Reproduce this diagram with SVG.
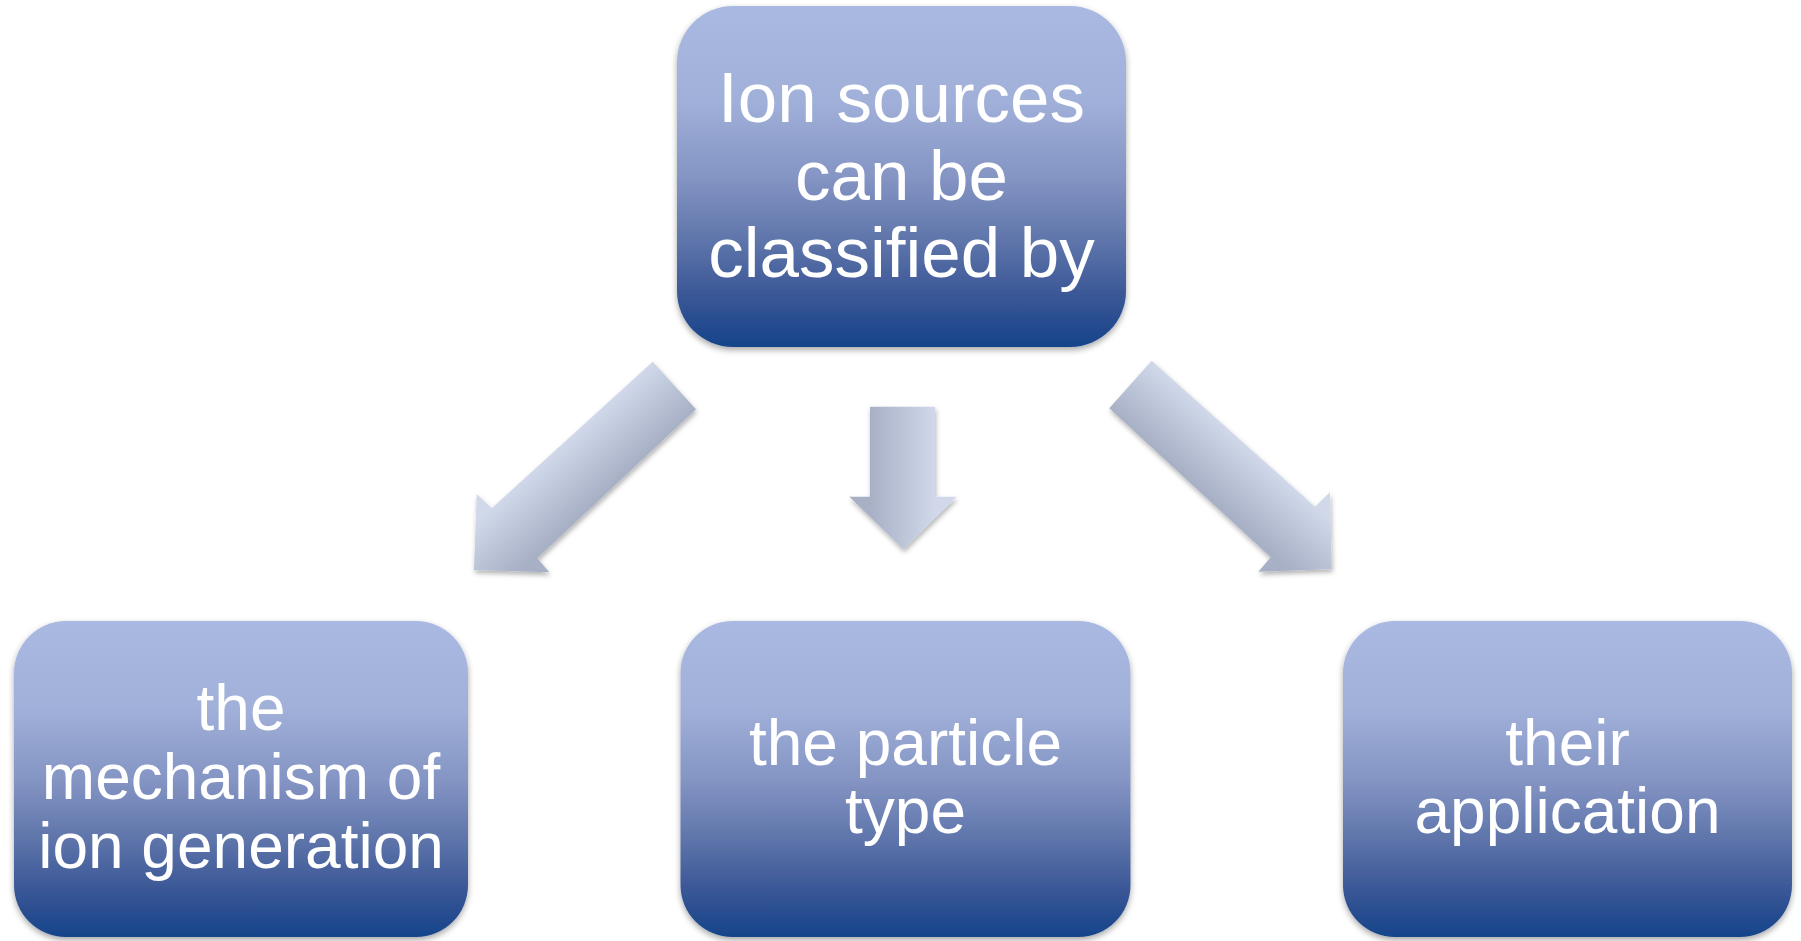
<svg xmlns="http://www.w3.org/2000/svg" width="1801" height="941" viewBox="0 0 1801 941">
  <defs>
    <linearGradient id="boxFill" x1="0" y1="0" x2="0" y2="1">
      <stop offset="0" stop-color="#a9b9e2"/>
      <stop offset="0.28" stop-color="#a0b0d9"/>
      <stop offset="0.5" stop-color="#8595c4"/>
      <stop offset="0.7" stop-color="#5c73a9"/>
      <stop offset="0.86" stop-color="#385595"/>
      <stop offset="1" stop-color="#15448a"/>
    </linearGradient>
    <linearGradient id="arrowLeftFill" gradientUnits="userSpaceOnUse" x1="652.7" y1="361.7" x2="696" y2="409.3">
      <stop offset="0" stop-color="#d0d8ea"/>
      <stop offset="1" stop-color="#a8b0c6"/>
    </linearGradient>
    <linearGradient id="arrowMidFill" gradientUnits="userSpaceOnUse" x1="870" y1="0" x2="935" y2="0">
      <stop offset="0" stop-color="#a8b0c6"/>
      <stop offset="1" stop-color="#d0d8ea"/>
    </linearGradient>
    <linearGradient id="arrowRightFill" gradientUnits="userSpaceOnUse" x1="1151.7" y1="360.7" x2="1109.3" y2="408.3">
      <stop offset="0" stop-color="#d0d8ea"/>
      <stop offset="1" stop-color="#a8b0c6"/>
    </linearGradient>
    <filter id="boxShadow" x="-10%" y="-10%" width="120%" height="125%">
      <feDropShadow dx="0" dy="3" stdDeviation="3" flood-color="#000" flood-opacity="0.35"/>
    </filter>
    <filter id="arrowShadow" x="-20%" y="-20%" width="140%" height="140%">
      <feDropShadow dx="1" dy="3" stdDeviation="2.5" flood-color="#000" flood-opacity="0.3"/>
    </filter>
  </defs>
  <style>
    .box { fill: url(#boxFill); filter: url(#boxShadow); }
    .label { font-family: "Liberation Sans", Arial, sans-serif; fill: #ffffff; text-anchor: middle; }
    .big { font-size: 71px; }
    .small { font-size: 64px; }
    .arrow { filter: url(#arrowShadow); }
  </style>

  <rect width="1801" height="941" fill="#ffffff"/>

  <g id="connectors">
    <polygon class="arrow" fill="url(#arrowLeftFill)"
      points="652.7,361.7 696,409.3 537.3,558.3 549.3,572.3 474,570 476.7,494 491.7,508.3"/>
    <polygon class="arrow" fill="url(#arrowMidFill)"
      points="870,406.7 935,406.7 935,496.7 956.7,496.7 903.3,549.3 849.3,496.7 870,496.7"/>
    <polygon class="arrow" fill="url(#arrowRightFill)"
      points="1151.7,360.7 1315,506.7 1330,492.3 1331.7,569 1258.3,571.7 1270.7,557.3 1109.3,408.3"/>
  </g>

  <g id="node-ion-sources">
    <rect class="box" x="677" y="6" width="449" height="341" rx="56" ry="56"/>
    <text class="label big" x="901.5" y="122">Ion sources</text>
    <text class="label big" x="901.5" y="199.5">can be</text>
    <text class="label big" x="901.5" y="277">classified by</text>
  </g>

  <g id="node-mechanism">
    <rect class="box" x="14" y="621" width="454" height="316" rx="52" ry="52"/>
    <text class="label small" x="241" y="730">the</text>
    <text class="label small" x="241" y="799">mechanism of</text>
    <text class="label small" x="241" y="868">ion generation</text>
  </g>

  <g id="node-particle-type">
    <rect class="box" x="680.5" y="621" width="450" height="316" rx="52" ry="52"/>
    <text class="label small" x="905.5" y="765">the particle</text>
    <text class="label small" x="905.5" y="833">type</text>
  </g>

  <g id="node-application">
    <rect class="box" x="1343" y="621" width="449" height="316" rx="52" ry="52"/>
    <text class="label small" x="1567.5" y="765">their</text>
    <text class="label small" x="1567.5" y="833">application</text>
  </g>
</svg>
